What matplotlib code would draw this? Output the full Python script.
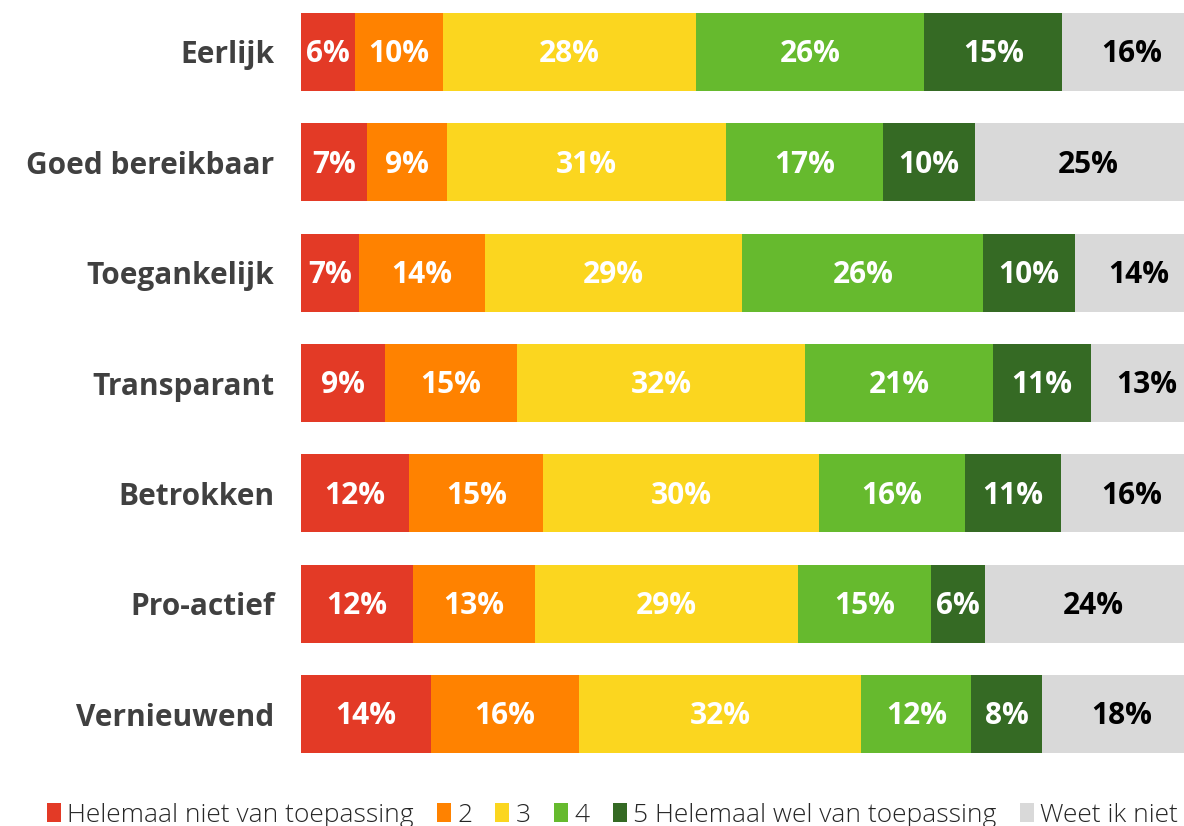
import numpy as np
import matplotlib.pyplot as plt
from matplotlib.patches import Patch

# categorie (dall'alto in basso)
categorie = ['Eerlijk', 'Goed bereikbaar', 'Toegankelijk', 'Transparant',
             'Betrokken', 'Pro-actief', 'Vernieuwend']

serie = ['Helemaal niet van toepassing', '2', '3', '4',
         '5 Helemaal wel van toepassing', 'Weet ik niet']

# larghezze stimate dei segmenti (%)
helemaal_niet = [6.0, 7.3, 6.4, 9.3, 12.0, 12.4, 14.4]
score_2 = [9.8, 8.9, 14.0, 14.7, 14.9, 13.6, 16.4]
score_3 = [28.0, 31.0, 28.6, 31.9, 30.6, 29.2, 31.4]
score_4 = [25.4, 17.4, 26.7, 20.9, 16.2, 14.7, 12.2]
helemaal_wel = [15.3, 10.2, 10.2, 10.9, 10.7, 6.0, 7.8]
weet_niet = [15.5, 25.2, 14.1, 12.3, 15.6, 24.1, 17.8]

# etichette mostrate
lab_niet = [6, 7, 7, 9, 12, 12, 14]
lab_2 = [10, 9, 14, 15, 15, 13, 16]
lab_3 = [28, 31, 29, 32, 30, 29, 32]
lab_4 = [26, 17, 26, 21, 16, 15, 12]
lab_wel = [15, 10, 10, 11, 11, 6, 8]
lab_weet = [16, 25, 14, 13, 16, 24, 18]

valori = [helemaal_niet, score_2, score_3, score_4, helemaal_wel, weet_niet]
etichette = [lab_niet, lab_2, lab_3, lab_4, lab_wel, lab_weet]
colori = ['#E33A26', '#FF8200', '#FBD61F', '#66BA2E', '#356A24', '#D9D9D9']
colori_testo = ['white', 'white', 'white', 'white', 'white', 'black']

fig = plt.figure(figsize=(11.84, 8.26), dpi=100)
ax = fig.add_axes([301 / 1184, 1 - 769.2 / 826, 901 / 1184, 772.4 / 826])

y = np.arange(len(categorie))
sinistra = np.zeros(len(categorie))
for i in range(len(serie)):
    v = np.array(valori[i])
    ax.barh(y, v, left=sinistra, height=0.707, color=colori[i], edgecolor='none')
    for j in range(len(categorie)):
        ax.text(sinistra[j] + v[j] / 2, y[j] + 0.02, f'{etichette[i][j]}%',
                ha='center', va='center', color=colori_testo[i],
                fontsize=21.5, fontweight='bold', family='Open Sans')
    sinistra += v

ax.set_xlim(0, 100)
ax.set_ylim(len(categorie) - 0.5, -0.5)
ax.set_yticks(y)
ax.set_yticklabels(categorie, fontsize=21.5, fontweight='bold', color='#404040',
                   family='Open Sans')
ax.tick_params(axis='y', length=0, pad=19)
ax.set_xticks([])
for s in ax.spines.values():
    s.set_visible(False)

# legenda in basso
handles = [Patch(facecolor=colori[i], edgecolor='none') for i in range(len(serie))]
fig.legend(handles, serie, loc='center left', bbox_to_anchor=(36 / 1184, 1 - 815 / 826),
           ncol=6, frameon=False, handlelength=0.53, handleheight=0.75,
           handletextpad=0.25, columnspacing=0.87, borderaxespad=0,
           prop={'family': 'Open Sans', 'size': 19, 'weight': 'light'},
           labelcolor='#262626')

fig.savefig('out.png', dpi=100)
